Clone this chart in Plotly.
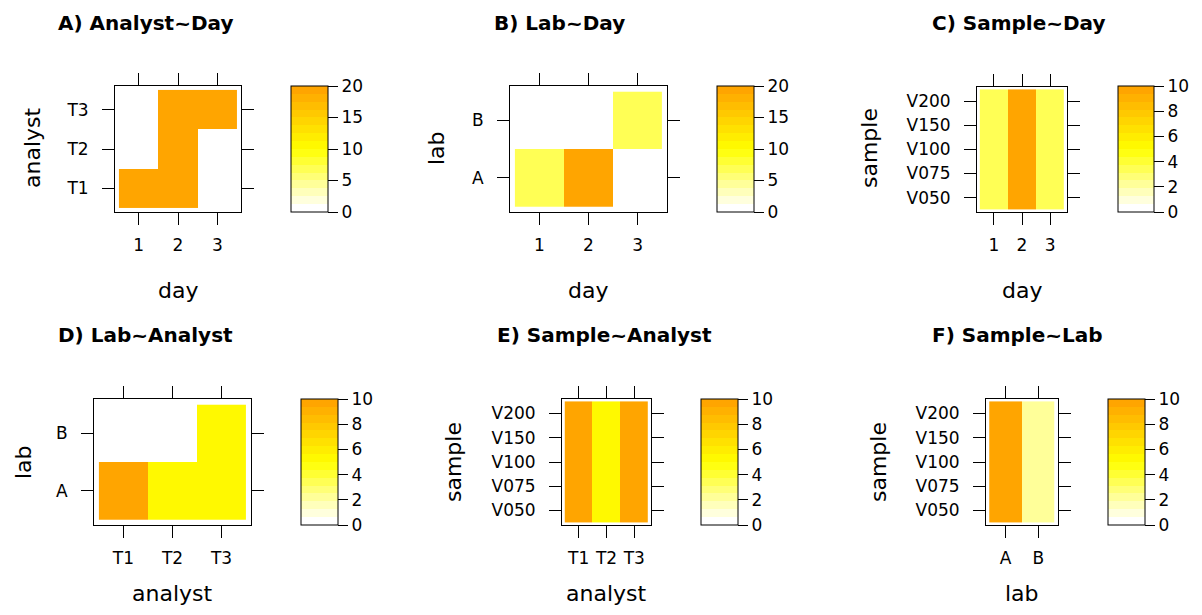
import plotly.graph_objects as go

# ---------------- data ----------------
day = ["1", "2", "3"]
analyst = ["T1", "T2", "T3"]
lab = ["A", "B"]
sample = ["V050", "V075", "V100", "V150", "V200"]

# A) analyst (rows) ~ day (cols)
z_analyst_day = [[20, 20, 0],
                 [0, 20, 0],
                 [0, 20, 20]]
# B) lab ~ day
z_lab_day = [[6.7, 20, 0],
             [0, 0, 6.7]]
# C) sample ~ day
z_sample_day = [[3.3, 10, 3.3]] * 5
# D) lab ~ analyst
z_lab_analyst = [[10, 5, 5],
                 [0, 0, 5]]
# E) sample ~ analyst
z_sample_analyst = [[10, 5, 10]] * 5
# F) sample ~ lab
z_sample_lab = [[10, 2]] * 5

ticks20 = [0, 5, 10, 15, 20]
ticks10 = [0, 2, 4, 6, 8, 10]

# ---------------- style ----------------
# the page body has an 8px default margin: size the figure to fit inside the window
OX, OY = 8, 8
W, H = 1202 - 2 * OX, 615 - 2 * OY
FONT = "DejaVu Sans, Liberation Sans, Arial, sans-serif"


def fx(px):
    return (px - OX) / W


def fy(py):
    return 1 - (py - OY) / H


# colour ramp white -> yellow -> orange, 16 bands
n = 16
cols = []
for i in range(n):
    t = i / (n - 1)
    if t <= 0.5:
        b = round(255 * (1 - 2 * t))
        cols.append(f"rgb(255,255,{b})")
    else:
        s = 2 * t - 1
        g = round(255 - 90 * s)
        cols.append(f"rgb(255,{g},0)")
cs = []
for i, c in enumerate(cols):
    cs.append([i / n, c])
    cs.append([(i + 1) / n, c])

panels = [
    dict(title="A) Analyst~Day", tcx=145, tcy=23, x=day, y=analyst, z=z_analyst_day, zmax=20, ct=ticks20,
         box=(115, 241, 86, 212), cb=(291, 328, 86, 212), xt="day", xtp=(178, 290, "middle"),
         yt="analyst", ytp=(33, 148)),
    dict(title="B) Lab~Day", tcx=559, tcy=23, x=day, y=lab, z=z_lab_day, zmax=20, ct=ticks20,
         box=(510, 667, 86, 212), cb=(717, 754, 86, 212), xt="day", xtp=(588, 290, "middle"),
         yt="lab", ytp=(437, 148)),
    dict(title="C) Sample~Day", tcx=1019, tcy=23, x=day, y=sample, z=z_sample_day, zmax=10, ct=ticks10,
         box=(977, 1067, 87, 212), cb=(1118, 1154, 86, 212), xt="day", xtp=(1022, 290, "middle"),
         yt="sample", ytp=(870, 148)),
    dict(title="D) Lab~Analyst", tcx=145, tcy=335, x=analyst, y=lab, z=z_lab_analyst, zmax=10, ct=ticks10,
         box=(94, 251, 399, 525), cb=(301, 338, 399, 525), xt="analyst", xtp=(172, 607, "bottom"),
         yt="lab", ytp=(23, 462)),
    dict(title="E) Sample~Analyst", tcx=604, tcy=335, x=analyst, y=sample, z=z_sample_analyst, zmax=10, ct=ticks10,
         box=(562, 651, 399, 525), cb=(701, 738, 399, 525), xt="analyst", xtp=(606, 607, "bottom"),
         yt="sample", ytp=(453, 462)),
    dict(title="F) Sample~Lab", tcx=1017, tcy=335, x=lab, y=sample, z=z_sample_lab, zmax=10, ct=ticks10,
         box=(986, 1058, 399, 525), cb=(1108, 1145, 399, 525), xt="lab", xtp=(1022, 607, "bottom"),
         yt="sample", ytp=(878, 462)),
]

fig = go.Figure()
layout = dict(width=W, height=H, margin=dict(l=0, r=0, t=0, b=0, autoexpand=False),
              paper_bgcolor="white", plot_bgcolor="white",
              font=dict(family=FONT, color="black"), showlegend=False)
annotations = []

axis_common = dict(showline=True, linecolor="black", linewidth=1, mirror="ticks",
                   ticks="outside", ticklen=12, tickcolor="black", tickwidth=1,
                   showgrid=False, zeroline=False, type="category", fixedrange=True,
                   tickfont=dict(family=FONT, size=17, color="black"))

for k, p in enumerate(panels, start=1):
    x0, x1, y0, y1 = p["box"]
    c0, c1, cy0, cy1 = p["cb"]
    xa = "x" if k == 1 else f"x{k}"
    ya = "y" if k == 1 else f"y{k}"
    fig.add_trace(go.Heatmap(
        z=p["z"], x=p["x"], y=p["y"], zmin=0, zmax=p["zmax"], colorscale=cs,
        xaxis=xa, yaxis=ya, xgap=0, ygap=0,
        colorbar=dict(x=fx(c0), xanchor="left", y=fy((cy0 + cy1) / 2), yanchor="middle",
                      len=cy1 - cy0, lenmode="pixels", thickness=c1 - c0, thicknessmode="pixels",
                      outlinewidth=1, outlinecolor="black", xpad=0, ypad=0, borderwidth=0,
                      ticks="outside", ticklen=10, tickcolor="black", tickvals=p["ct"],
                      tickfont=dict(family=FONT, size=17, color="black"))))
    nx, ny = len(p["x"]), len(p["y"])
    layout[f"xaxis{'' if k == 1 else k}"] = dict(
        axis_common, domain=[fx(x0), fx(x1)], anchor=ya, range=[-0.6, nx - 0.4],
        categoryorder="array", categoryarray=p["x"], ticklabelstandoff=6)
    layout[f"yaxis{'' if k == 1 else k}"] = dict(
        axis_common, domain=[fy(y1), fy(y0)], anchor=xa, range=[-0.6, ny - 0.4],
        categoryorder="array", categoryarray=p["y"], ticklabelstandoff=10)
    annotations.append(dict(text=f"<b>{p['title']}</b>", x=fx(p["tcx"]), y=fy(p["tcy"]),
                            xref="paper", yref="paper", showarrow=False, xanchor="center", yanchor="middle",
                            font=dict(family=FONT, size=20, color="black")))
    annotations.append(dict(text=p["xt"], x=fx(p["xtp"][0]), y=fy(p["xtp"][1]),
                            xref="paper", yref="paper", showarrow=False, xanchor="center",
                            yanchor=p["xtp"][2], borderpad=0,
                            font=dict(family=FONT, size=22, color="black")))
    annotations.append(dict(text=p["yt"], x=fx(p["ytp"][0]), y=fy(p["ytp"][1]), textangle=-90,
                            xref="paper", yref="paper", showarrow=False, xanchor="center", yanchor="middle",
                            borderpad=0, font=dict(family=FONT, size=22, color="black")))

layout["annotations"] = annotations
fig.update_layout(**layout)
fig.write_html("out.html")
